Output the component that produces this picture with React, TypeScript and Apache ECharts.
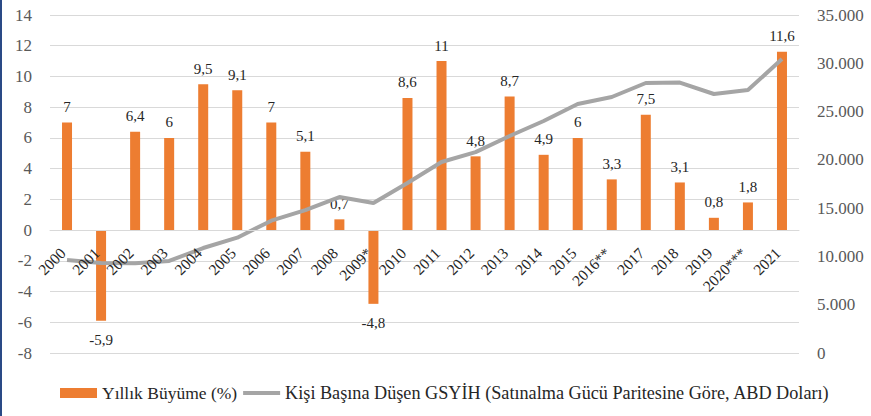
import React, { useEffect, useRef } from "react";
import * as echarts from "echarts";

const years = ["2000","2001","2002","2003","2004","2005","2006","2007","2008","2009*","2010","2011","2012","2013","2014","2015","2016**","2017","2018","2019","2020***","2021"];
const growth = [7, -5.9, 6.4, 6, 9.5, 9.1, 7, 5.1, 0.7, -4.8, 8.6, 11, 4.8, 8.7, 4.9, 6, 3.3, 7.5, 3.1, 0.8, 1.8, 11.6];
const gdpPerCapita = [9630, 9320, 9300, 9530, 10870, 11940, 13700, 14800, 16150, 15530, 17600, 19780, 20800, 22470, 24020, 25780, 26510, 27960, 28000, 26820, 27230, 30440];

const leftTicks = { min: -8, max: 14, interval: 2 };
const rightTicks = { min: 0, max: 35000, interval: 5000 };

const growthName = "Yıllık Büyüme (%)";
const gdpName = "Kişi Başına Düşen GSYİH (Satınalma Gücü Paritesine Göre, ABD Doları)";

const FONT = "'Liberation Serif', serif";

const GRID_TOP = 15;
const GRID_BOTTOM = 63;
const H = 416;

export default function App() {
  const ref = useRef<HTMLDivElement>(null);
  useEffect(() => {
    if (!ref.current) return;
    const chart = echarts.init(ref.current, undefined, { renderer: "svg" });
    const plotH = H - GRID_TOP - GRID_BOTTOM;
    const zeroY = GRID_TOP + plotH * (leftTicks.max / (leftTicks.max - leftTicks.min));
    const bottomY = H - GRID_BOTTOM;
    chart.setOption({
      animation: false,
      backgroundColor: "#ffffff",
      textStyle: { fontFamily: FONT },
      grid: { left: 50, right: 72, top: GRID_TOP, bottom: GRID_BOTTOM, containLabel: false },
      graphic: [
        { type: "rect", left: 0, top: 0, shape: { x: 0, y: 0, width: 2, height: 416 }, style: { fill: "#2a4a86" } },
      ],
      legend: {
        left: 55,
        top: 379,
        itemWidth: 37,
        itemHeight: 10,
        itemGap: 6,
        textStyle: { fontFamily: FONT, fontSize: 17.5, color: "#262626" },
        data: [
          { name: growthName, icon: "rect", textStyle: { fontFamily: FONT, fontSize: 17.5, color: "#262626" } },
          { name: gdpName, icon: "path://M0,0H37V4H0Z", textStyle: { fontFamily: FONT, fontSize: 18.2, color: "#262626" } },
        ],
      },
      xAxis: {
        type: "category",
        data: years,
        z: 10,
        offset: -(bottomY - zeroY),
        axisLine: { onZero: false, lineStyle: { color: "#D9D9D9", width: 1 } },
        axisTick: { show: false },
        axisLabel: {
          rotate: 45,
          fontSize: 15.5,
          color: "#262626",
          fontFamily: FONT,
          margin: 16,
          padding: [0, 6, 0, 0],
          interval: 0,
        },
      },
      yAxis: [
        {
          type: "value",
          min: leftTicks.min,
          max: leftTicks.max,
          interval: leftTicks.interval,
          axisLine: { show: false },
          axisTick: { show: false },
          splitLine: { lineStyle: { color: "#D9D9D9", width: 1 } },
          axisLabel: { fontSize: 17, color: "#595959", fontFamily: FONT, margin: 18 },
        },
        {
          type: "value",
          min: rightTicks.min,
          max: rightTicks.max,
          interval: rightTicks.interval,
          axisLine: { show: false },
          axisTick: { show: false },
          splitLine: { show: false },
          axisLabel: {
            fontSize: 17,
            color: "#595959",
            fontFamily: FONT,
            margin: 18,
            formatter: (v: number) => String(v).replace(/\B(?=(\d{3})+(?!\d))/g, "."),
          },
        },
      ],
      series: [
        {
          name: growthName,
          type: "bar",
          yAxisIndex: 0,
          barWidth: 10,
          itemStyle: { color: "#ED7D31" },
          data: growth.map((v) => ({
            value: v,
            label: {
              show: true,
              position: v < 0 ? "bottom" : "top",
              distance: v < 0 ? 12 : 8,
              fontSize: 15,
              color: "#262626",
              fontFamily: FONT,
              formatter: () => String(v).replace(".", ","),
            },
          })),
        },
        {
          name: gdpName,
          type: "line",
          yAxisIndex: 1,
          symbol: "none",
          lineStyle: { color: "#A5A5A5", width: 4 },
          itemStyle: { color: "#A5A5A5" },
          data: gdpPerCapita,
        },
      ],
    });
    return () => chart.dispose();
  }, []);
  return (
    <div
      ref={ref}
      style={{ position: "fixed", left: 0, top: 0, width: 871, height: 416, background: "#fff" }}
    />
  );
}
